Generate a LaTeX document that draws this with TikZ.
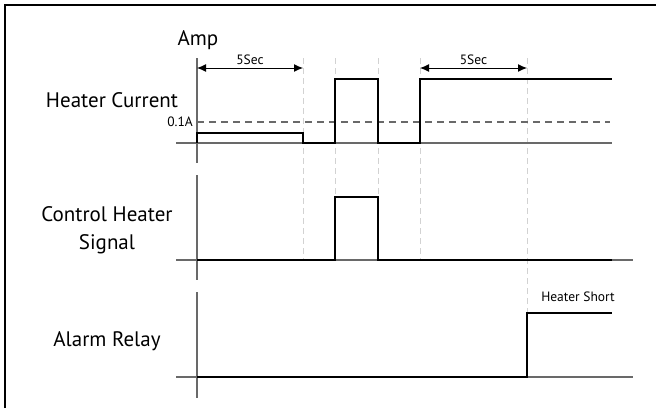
\documentclass[tikz,border=0pt]{standalone}
\usepackage{fontspec}
\setmainfont{PT Sans}
\usepackage{tikz}
\usetikzlibrary{arrows.meta}
\definecolor{axisgray}{RGB}{105,105,105}
\definecolor{guidegray}{RGB}{210,210,210}

\begin{document}
\begin{tikzpicture}[x=1pt, y=-1pt,
    axis/.style={axisgray, line width=1.3pt},
    wave/.style={black, line width=2.6pt, line join=miter},
    guide/.style={guidegray, line width=1pt, dash pattern=on 6pt off 4pt},
    span/.style={{Latex[length=9pt,width=8pt]}-{Latex[length=9pt,width=8pt]}, line width=1pt},
    big/.style={font=\fontsize{21}{28}\selectfont, inner sep=0pt, align=center},
    small/.style={font=\fontsize{13.5}{15}\selectfont, inner sep=0pt}]
    \useasboundingbox (0,0) rectangle (656,408);

    % frame
    \draw[line width=2pt] (5,408) -- (5,5) -- (656,5);

    % labels
    \node[big] (amp) at (198,40) {Amp};
    \node[big] (heater) at (112,100) {Heater Current};
    \node[big] (control) at (107,230) {Control Heater\\Signal};
    \node[big] (alarm) at (107,341) {Alarm Relay};
    \node[small, anchor=east] (limit) at (193,122) {0.1A};

    % guide lines
    \foreach \x in {303,335,378,420}
        \draw[guide] (\x,58) -- (\x,260);
    \draw[guide] (527,58) -- (527,313);

    % axes
    \draw[axis] (197,58) -- (197,163);
    \draw[axis] (197,175) -- (197,280);
    \draw[axis] (197,292) -- (197,398);
    \draw[axis] (176,143) -- (612,143);
    \draw[axis] (176,260) -- (633,260);
    \draw[axis] (176,377) -- (633,377);
    \draw[axis, dash pattern=on 7pt off 5pt] (197,122) -- (610,122);

    % 5 s spans
    \coordinate (s1a) at (197,68);
    \coordinate (s1b) at (303,68);
    \coordinate (s2a) at (420,68);
    \coordinate (s2b) at (527,68);
    \draw[span] (s1a) -- node[small, above=3pt] (sec1) {5Sec} (s1b);
    \draw[span] (s2a) -- node[small, above=3pt] (sec2) {5Sec} (s2b);

    % heater current
    \draw[wave] (197,143) -- (197,133) -- (303,133) -- (303,143) -- (335,143) -- (335,79)
        -- (378,79) -- (378,143) -- (420,143) -- (420,79) -- (612,79);

    % control heater signal
    \draw[wave] (197,260) -- (335,260) -- (335,197) -- (378,197) -- (378,260) -- (612,260);

    % alarm relay
    \draw[wave] (197,377) -- (527,377) -- (527,313) -- (612,313);
    \node[small] (short) at (578,297) {Heater Short};
\end{tikzpicture}
\end{document}
